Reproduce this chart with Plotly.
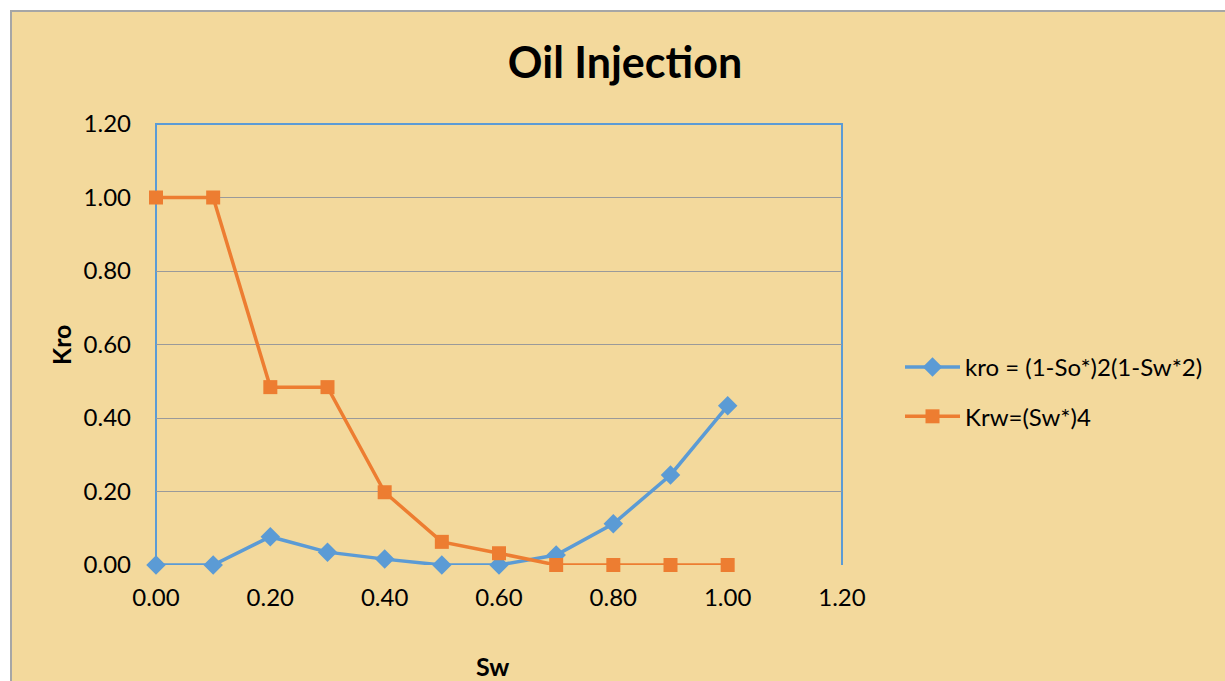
import plotly.graph_objects as go

# Water saturation values and relative permeabilities
sw = [0.0, 0.1, 0.2, 0.3, 0.4, 0.5, 0.6, 0.7, 0.8, 0.9, 1.0]
kro = [0.0, 0.0, 0.077, 0.035, 0.016, 0.0, 0.0, 0.027, 0.112, 0.245, 0.433]
krw = [1.0, 1.0, 0.484, 0.484, 0.198, 0.063, 0.032, 0.0, 0.0, 0.0, 0.0]

kro_name = "kro = (1-So*)2(1-Sw*2)"
krw_name = "Krw=(Sw*)4"
tick_vals = [0.0, 0.2, 0.4, 0.6, 0.8, 1.0, 1.2]
tick_text = ["0.00", "0.20", "0.40", "0.60", "0.80", "1.00", "1.20"]

FONT = "Lato, Carlito, Calibri, sans-serif"
BLUE = "#5B9BD5"
ORANGE = "#ED7D31"
PARCH = "#F3D99C"

W, H = 1225, 681
ML, MR, MT, MB = 156, W - 842, 124, H - 565
PW, PH = W - ML - MR, H - MT - MB


def px(x):
    return (x - ML) / PW


def py(y):
    return (H - MB - y) / PH


fig = go.Figure()
fig.add_trace(go.Scatter(
    x=sw, y=kro, name=kro_name, mode="lines+markers",
    line=dict(color=BLUE, width=3.5),
    marker=dict(symbol="diamond", size=15, color=BLUE),
    legendgroup="a", cliponaxis=False,
))
fig.add_trace(go.Scatter(
    x=sw, y=krw, name=krw_name, mode="lines+markers",
    line=dict(color=ORANGE, width=3.5),
    marker=dict(symbol="square", size=14, color=ORANGE),
    legendgroup="b", cliponaxis=False,
))

shapes = [
    # chart-area background
    dict(type="rect", xref="paper", yref="paper",
         x0=px(11), x1=px(W + 5), y0=py(H + 5), y1=py(11),
         fillcolor=PARCH, line=dict(color="#A6A6A6", width=2), layer="below"),
    # plot frame: left, top, right
    dict(type="path", xref="paper", yref="paper",
         path="M 0 0 L 0 1 L 1 1 L 1 0",
         line=dict(color=BLUE, width=2), layer="below"),
]

annotations = [
    dict(text="<b>Kro</b>", x=px(61), y=py(345), xref="paper", yref="paper",
         xanchor="center", yanchor="middle",
         showarrow=False, textangle=-90, font=dict(size=25, color="#000", family=FONT)),
    dict(text="<b>Sw</b>", x=px(492), y=py(666), xref="paper", yref="paper",
         xanchor="center", yanchor="middle",
         showarrow=False, font=dict(size=25, color="#000", family=FONT)),
]

fig.update_layout(
    width=W, height=H,
    margin=dict(l=ML, r=MR, t=MT, b=MB, autoexpand=False),
    paper_bgcolor="white",
    plot_bgcolor="rgba(0,0,0,0)",
    title=dict(text="<b>Oil Injection</b>", x=625 / W, xanchor="center",
               y=1 - 63 / H, yanchor="middle",
               font=dict(size=43, color="#000", family=FONT)),
    xaxis=dict(range=[0, 1.2], tickvals=tick_vals, ticktext=tick_text,
               showgrid=False, zeroline=False, showline=False,
               ticks="", ticklabelstandoff=16,
               tickfont=dict(size=24, color="#000", family=FONT)),
    yaxis=dict(range=[0, 1.2], tickvals=tick_vals, ticktext=tick_text,
               showgrid=True, gridcolor="#9A9A9A", gridwidth=1,
               zeroline=False, showline=False, ticks="", ticklabelstandoff=24,
               tickfont=dict(size=24, color="#000", family=FONT)),
    legend=dict(x=px(900), y=py(345), xanchor="left", yanchor="top",
                bgcolor="rgba(0,0,0,0)", tracegroupgap=15, itemwidth=55,
                font=dict(size=24, color="#000", family=FONT)),
    shapes=shapes,
    annotations=annotations,
)

fig.write_html("out.html")
